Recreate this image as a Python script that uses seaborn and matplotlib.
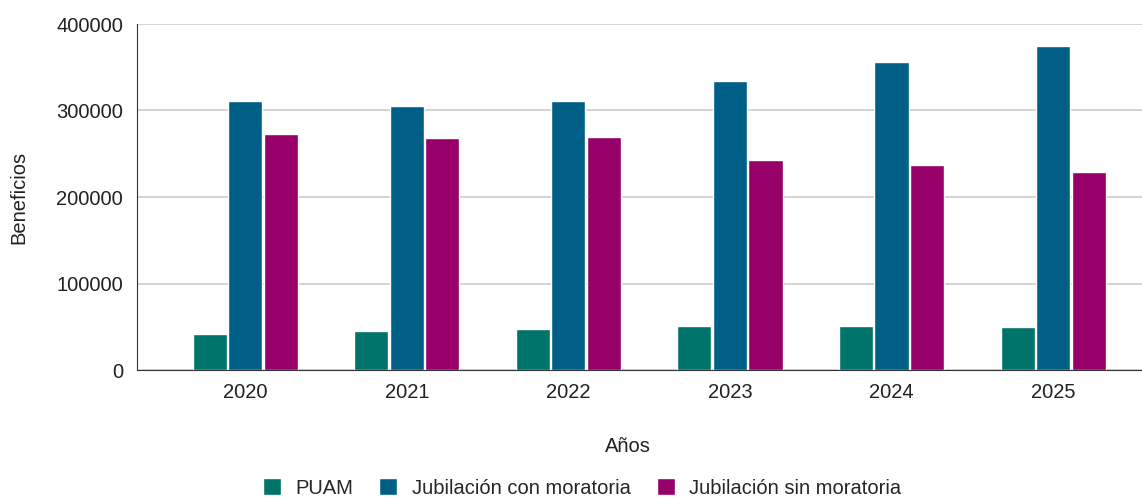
import pandas as pd
import seaborn as sns
import matplotlib.pyplot as plt

# values
years = ["2020", "2021", "2022", "2023", "2024", "2025"]
puam = [41300, 45400, 47000, 50900, 51200, 49300]
jub_con = [311000, 305200, 311000, 334500, 356000, 374200]
jub_sin = [272500, 267900, 269700, 242800, 236600, 228900]
series = ["PUAM", "Jubilación con moratoria", "Jubilación sin moratoria"]
colors = ["#00736B", "#005F87", "#970068"]

df = pd.DataFrame({"Años": years, series[0]: puam, series[1]: jub_con, series[2]: jub_sin})
long = df.melt(id_vars="Años", var_name="Serie", value_name="Beneficios")

sns.set_style("white")
plt.rcParams["font.family"] = ["Liberation Sans", "DejaVu Sans"]

fig = plt.figure(figsize=(11.42, 4.98), dpi=100)
ax = fig.add_axes([137 / 1142, 1 - 370 / 498, (1142 - 137) / 1142, 346 / 498])

sns.barplot(data=long, x="Años", y="Beneficios", hue="Serie", hue_order=series,
            palette=colors, width=0.66, gap=0.04, saturation=1, ax=ax, legend=True)

ax.set_ylim(0, 400000)
ax.set_xlim(-0.67, 5.55)
ax.set_yticks([0, 100000, 200000, 300000, 400000])
ax.set_yticklabels(["0", "100000", "200000", "300000", "400000"])
ax.yaxis.grid(True, color="#cccccc", linewidth=1.2)
ax.set_axisbelow(True)
ax.tick_params(axis="both", labelsize=14.5, colors="#222222", length=0)
ax.tick_params(axis="x", pad=9)
ax.tick_params(axis="y", pad=10)

for s in ["top", "right"]:
    ax.spines[s].set_visible(False)
ax.spines["left"].set_color("#333333")
ax.spines["bottom"].set_color("#333333")

ax.set_xlabel("Años", fontsize=14.5, color="#222222")
ax.set_ylabel("Beneficios", fontsize=14.5, color="#222222")
ax.xaxis.set_label_coords((628 - 137) / 1005, -0.195)
ax.yaxis.set_label_coords((28 - 137) / 1005, 0.5)

handles, labels = ax.get_legend_handles_labels()
ax.legend_.remove()
fig.legend(handles, labels, loc="center", bbox_to_anchor=(582 / 1142, 1 - 488 / 498),
           ncol=3, frameon=False, fontsize=14.5, handlelength=0.9, handleheight=0.9,
           handletextpad=0.7, columnspacing=1.3)

plt.savefig("out.png", dpi=100)
